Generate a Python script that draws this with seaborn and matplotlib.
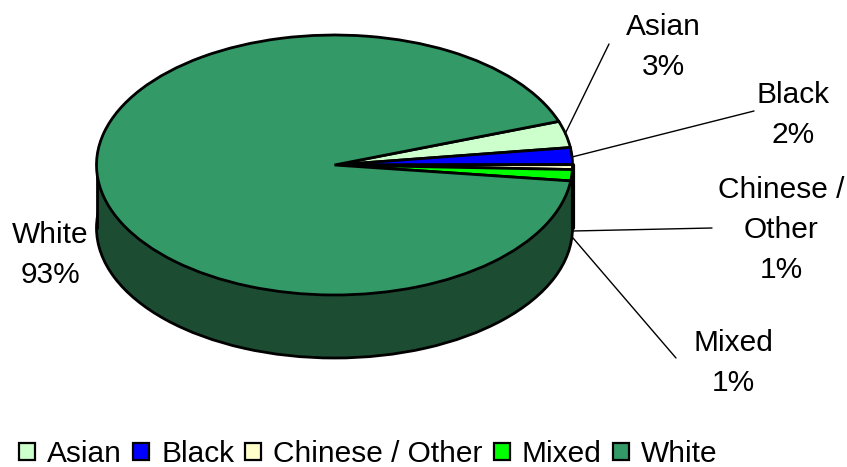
import matplotlib
matplotlib.use("Agg")
import matplotlib.pyplot as plt
from matplotlib.lines import Line2D
from matplotlib.patches import Rectangle
import seaborn as sns

categories = ["Asian", "Black", "Chinese / Other", "Mixed", "White"]
shares = [3.3, 2.1, 0.6, 1.4, 92.6]
label_lines = ["Asian", "Black", "Chinese /\nOther", "Mixed", "White"]
top_colors = ["#CCFFCC", "#0000FF", "#FFFFCC", "#00FF00", "#339966"]
side_color = "#1C4D33"

W, H = 847, 467
CX, CY, RX, RY, DEPTH = 334.5, 165, 238, 130, 63
START = 19.6

sns.set_theme(style="white")
plt.rcParams["font.family"] = ["Liberation Sans", "DejaVu Sans"]
plt.rcParams["text.color"] = "black"

fig = plt.figure(figsize=(W / 100, H / 100), dpi=100, facecolor="white")
ax = fig.add_axes([0, 0, 1, 1])


def fx(px):
    return px / W


def fy(py):
    return 1 - py / H


edge = dict(edgecolor="black", linewidth=2.0)
depth_units = DEPTH / RY

# Lower rim of the disc, then the wall joining it to the upper face
ax.pie([sum(shares)], colors=[side_color], startangle=90,
       center=(0, -depth_units), radius=1, wedgeprops=edge, frame=True)
ax.add_patch(Rectangle((-1, -depth_units), 2, depth_units, facecolor=side_color,
                       edgecolor="none", zorder=1.5))
ax.plot([-1, -1], [0, -depth_units], color="black", lw=2.0, zorder=1.6)
ax.plot([1, 1], [0, -depth_units], color="black", lw=3.0, zorder=1.6)

# Upper face
wedges, _ = ax.pie(shares, colors=top_colors, startangle=START, counterclock=False,
                   center=(0, 0), radius=1, wedgeprops=edge, frame=True)
for w in wedges:
    w.set_zorder(3)

ax.set_aspect("auto")
ax.set_xlim(-CX / RX, (W - CX) / RX)
ax.set_ylim(-(H - CY) / RY, CY / RY)
ax.set_xticks([])
ax.set_yticks([])
ax.set_frame_on(False)

# Category labels with leader lines
label_pos = [(663, 47), (793, 115), (781, 230), (733, 363), (50, 255)]
leaders = [
    [(609, 44), (565, 134)],
    [(754, 111), (572, 157)],
    [(712, 228), (573, 231)],
    [(676, 358), (573, 238)],
    None,
]
for name, share, (px, py), seg in zip(label_lines, shares, label_pos, leaders):
    fig.text(fx(px), fy(py), f"{name}\n{share:.0f}%", ha="center", va="center",
             fontsize=21.5, color="black", linespacing=1.55)
    if seg:
        (x0, y0), (x1, y1) = seg
        fig.add_artist(Line2D([fx(x0), fx(x1)], [fy(y0), fy(y1)], color="black", lw=1.0))

leg = fig.legend(wedges, categories, loc="center left", bbox_to_anchor=(fx(19), fy(454)),
                 ncol=5, frameon=False, fontsize=21.5, handlelength=0.54, handleheight=0.54,
                 handletextpad=0.4, columnspacing=0.37, borderpad=0, borderaxespad=0)
for h in leg.legend_handles:
    h.set_linewidth(1.6)

fig.savefig("out.png", dpi=100)
